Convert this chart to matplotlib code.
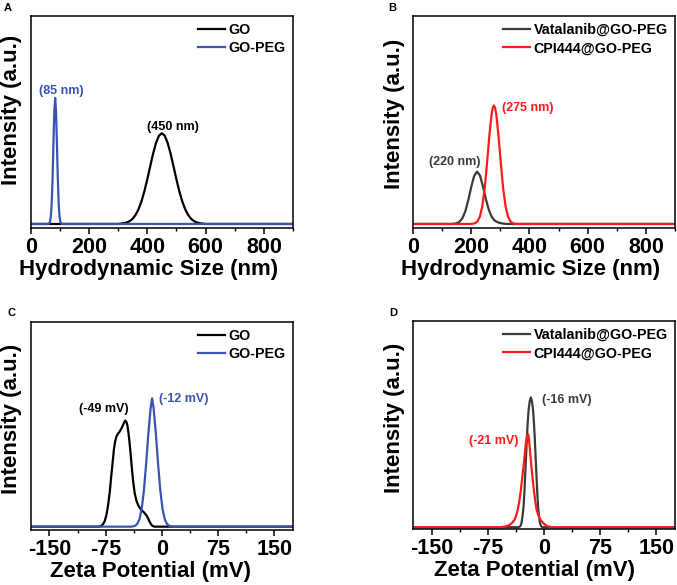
import matplotlib
matplotlib.use("Agg")
import matplotlib.pyplot as plt
from matplotlib.ticker import MultipleLocator

plt.rcParams['font.family'] = ['Liberation Sans', 'DejaVu Sans']
plt.rcParams['font.weight'] = 'bold'

BLUE = '#3953b3'
GRAY = '#3a3a3a'
RED = '#ff1a1a'
BLACK = '#000000'

# ---- Panel A: hydrodynamic size ----
a_go_x = [0, 300, 310, 320, 330, 340, 350, 360, 370, 380, 390, 400, 410, 420, 430, 440, 450,
          460, 470, 480, 490, 500, 510, 520, 530, 540, 550, 560, 570, 580, 590, 600, 900]
a_go_y = [0, 0, 0.003, 0.006, 0.012, 0.023, 0.042, 0.0725, 0.117, 0.179, 0.259, 0.354, 0.457, 0.558, 0.643, 0.700, 0.72,
          0.700, 0.643, 0.558, 0.457, 0.354, 0.259, 0.179, 0.117, 0.0725, 0.042, 0.023, 0.012, 0.006, 0.003, 0, 0]
a_peg_x = [0, 60, 63, 66, 69, 72, 75, 78, 81, 84, 87, 90, 93, 96, 99, 102, 105, 108, 900]
a_peg_y = [0, 0, 0.004, 0.017, 0.058, 0.162, 0.359, 0.634, 0.892, 1.0, 0.892, 0.634, 0.359, 0.162, 0.058, 0.017, 0.004, 0, 0]

# ---- Panel B ----
b_vat_x = [0, 130, 140, 150, 160, 170, 180, 190, 200, 210, 220, 230, 240, 250, 260, 270, 280, 290, 300, 310, 320, 900]
b_vat_y = [0, 0, 0.002, 0.006, 0.018, 0.047, 0.103, 0.190, 0.293, 0.381, 0.415, 0.385, 0.30, 0.20, 0.115, 0.058,
           0.028, 0.014, 0.007, 0.003, 0, 0]
b_cpi_x = [0, 198, 206, 214, 222, 230, 238, 246, 254, 262, 270, 274, 278, 282, 286, 294, 302, 310, 318, 326, 334,
           342, 350, 358, 900]
b_cpi_y = [0, 0, 0.002, 0.0071, 0.0226, 0.060, 0.140, 0.277, 0.474, 0.693, 0.871, 0.921, 0.94, 0.921, 0.871, 0.693,
           0.474, 0.277, 0.140, 0.060, 0.0226, 0.0071, 0.002, 0, 0]

# ---- Panel C: zeta potential ----
c_go_x = [-175, -84, -81, -78.5, -76.5, -74, -72, -69.5, -67.6, -65.5, -64, -62.3, -60.8, -58.5, -56.4, -54,
          -51.9, -50.2, -48.7, -47.3, -46, -44.5, -43, -41.3, -39.8, -38, -36.2, -34, -31.8, -29.5, -27.3,
          -25, -22.8, -20.5, -18.4, -16, -13.8, -11.5, -9.4, 175]
c_go_y = [0, 0, 0.005, 0.02, 0.039, 0.09, 0.156, 0.27, 0.39, 0.51, 0.60, 0.665, 0.70, 0.725, 0.74, 0.765,
          0.79, 0.815, 0.827, 0.815, 0.79, 0.73, 0.65, 0.545, 0.44, 0.34, 0.26, 0.205, 0.17, 0.147, 0.13,
          0.118, 0.104, 0.088, 0.065, 0.035, 0.013, 0.003, 0, 0]
c_peg_x = [-175, -42, -39, -36, -33, -30, -27, -24, -21, -18, -15, -13, -11, -8, -5, -2, 1, 4, 7, 10, 13, 16, 175]
c_peg_y = [0, 0, 0.0015, 0.006, 0.020, 0.056, 0.135, 0.278, 0.487, 0.726, 0.923, 1.0, 0.923, 0.726, 0.487,
           0.278, 0.135, 0.056, 0.020, 0.006, 0.0015, 0, 0]

# ---- Panel D ----
d_vat_x = [-175, -34, -31.5, -30.2, -28.8, -27.3, -26.1, -25, -23.9, -22.8, -21.7, -20.6, -19.1, -17.6,
           -16.1, -14.6, -13.5, -12.4, -11.3, -10.2, -9.1, -7.9, -6.6, -5.3, -3.8, -2.2, 175]
d_vat_y = [0, 0, 0.008, 0.029, 0.08, 0.16, 0.28, 0.42, 0.56, 0.70, 0.82, 0.91, 0.98, 1.01,
           0.98, 0.91, 0.82, 0.70, 0.56, 0.42, 0.28, 0.16, 0.08, 0.029, 0.008, 0, 0]
d_cpi_x = [-175, -58, -52, -46.4, -43, -39.7, -37.5, -35.3, -33, -30.9, -29.2, -27.4, -25.8, -24.3, -22.9,
           -21.6, -20.5, -19.5, -18.2, -16.8, -15.2, -13.6, -11.6, -9.7, -7, -4.4, -1, 2.2, 6, 11, 175]
d_cpi_y = [0, 0, 0.005, 0.016, 0.032, 0.055, 0.085, 0.13, 0.20, 0.29, 0.38, 0.47, 0.56, 0.65, 0.705,
           0.725, 0.705, 0.65, 0.56, 0.47, 0.38, 0.29, 0.20, 0.13, 0.085, 0.055, 0.032, 0.016, 0.005, 0, 0]

size_ticks = [0, 200, 400, 600, 800]
zeta_ticks = [-150, -75, 0, 75, 150]

fig = plt.figure(figsize=(6.77, 5.85), dpi=100)

W, H = 677.0, 585.0
def add_ax(l, t, r, b):
    return fig.add_axes([l / W, 1 - b / H, (r - l) / W, (b - t) / H])

axA = add_ax(30.7, 16, 293, 228)
axB = add_ax(413, 16, 675, 228)
axC = add_ax(30.7, 322, 293, 530)
axD = add_ax(413, 321, 675, 529)

LW = 1.6
TICKFS = 15.5
LABFS = 16
LEGFS = 10.3
ANNFS = 9

def style(ax, xlabel, ticks, minor, xlim, ylim, xl_x, yl_y):
    ax.set_xlim(*xlim)
    ax.set_ylim(*ylim)
    ax.set_xticks(ticks)
    ax.set_xticklabels([str(t) for t in ticks], fontsize=TICKFS, fontweight='bold')
    ax.xaxis.set_minor_locator(MultipleLocator(minor))
    ax.set_yticks([])
    ax.tick_params(axis='x', which='major', direction='out', length=4, width=1.1, pad=2.5)
    ax.tick_params(axis='x', which='minor', direction='out', length=2.5, width=1.0)
    for s in ax.spines.values():
        s.set_linewidth(1.1)
    ax.set_xlabel(xlabel, fontsize=LABFS, fontweight='bold', labelpad=1, x=xl_x)
    ax.set_ylabel('Intensity (a.u.)', fontsize=LABFS, fontweight='bold', labelpad=6, y=yl_y)

def legend(ax):
    ax.legend(loc='upper right', frameon=False, handlelength=1.9, handletextpad=0.25,
              labelspacing=0.3, borderaxespad=0.2, borderpad=0.3,
              prop={'weight': 'bold', 'size': LEGFS})

# A
axA.plot(a_go_x, a_go_y, color=BLACK, lw=LW, label='GO')
axA.plot(a_peg_x, a_peg_y, color=BLUE, lw=LW, label='GO-PEG')
style(axA, 'Hydrodynamic Size (nm)', size_ticks, 100, (0, 900), (-0.032, 1.65), 0.451, 0.557)
legend(axA)
axA.text(104, 1.058, '(85 nm)', color=BLUE, fontsize=ANNFS, fontweight='bold', ha='center', va='center')
axA.text(487, 0.767, '(450 nm)', color=BLACK, fontsize=ANNFS, fontweight='bold', ha='center', va='center')

# B
axB.plot(b_vat_x, b_vat_y, color=GRAY, lw=LW, label='Vatalanib@GO-PEG')
axB.plot(b_cpi_x, b_cpi_y, color=RED, lw=LW, label='CPI444@GO-PEG')
style(axB, 'Hydrodynamic Size (nm)', size_ticks, 100, (0, 900), (-0.032, 1.65), 0.447, 0.538)
legend(axB)
axB.text(395, 0.923, '(275 nm)', color=RED, fontsize=ANNFS, fontweight='bold', ha='center', va='center')
axB.text(142, 0.49, '(220 nm)', color=GRAY, fontsize=ANNFS, fontweight='bold', ha='center', va='center')

# C
axC.plot(c_go_x, c_go_y, color=BLACK, lw=LW, label='GO')
axC.plot(c_peg_x, c_peg_y, color=BLUE, lw=LW, label='GO-PEG')
style(axC, 'Zeta Potential (mV)', zeta_ticks, 37.5, (-175, 175), (-0.026, 1.595), 0.458, 0.534)
legend(axC)
axC.text(-77, 0.917, '(-49 mV)', color=BLACK, fontsize=ANNFS, fontweight='bold', ha='center', va='center')
axC.text(29, 0.995, '(-12 mV)', color=BLUE, fontsize=ANNFS, fontweight='bold', ha='center', va='center')

# D
axD.plot(d_vat_x, d_vat_y, color=GRAY, lw=LW, label='Vatalanib@GO-PEG')
axD.plot(d_cpi_x, d_cpi_y, color=RED, lw=LW, label='CPI444@GO-PEG')
style(axD, 'Zeta Potential (mV)', zeta_ticks, 37.5, (-175, 175), (-0.014, 1.605), 0.464, 0.534)
legend(axD)
axD.text(31, 0.99, '(-16 mV)', color=GRAY, fontsize=ANNFS, fontweight='bold', ha='center', va='center')
axD.text(-67, 0.673, '(-21 mV)', color=RED, fontsize=ANNFS, fontweight='bold', ha='center', va='center')

for lab, x, y in [('A', 8, 8), ('B', 392, 8), ('C', 12, 313), ('D', 393, 313)]:
    fig.text(x / W, 1 - y / H, lab, fontsize=8, fontweight='bold', ha='center', va='center')

fig.savefig('out.png', dpi=100)
